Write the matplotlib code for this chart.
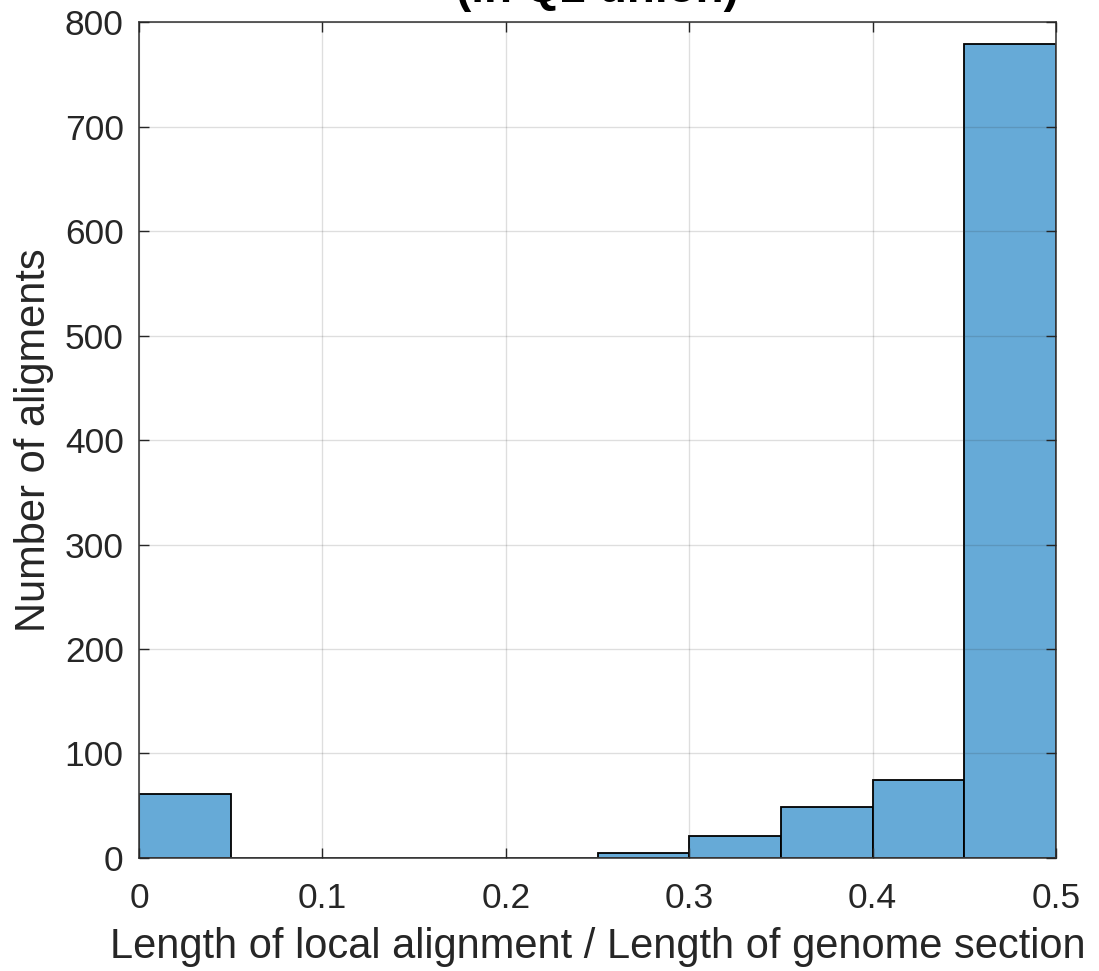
import matplotlib.pyplot as plt
import numpy as np

plt.rcParams["font.family"] = ["Liberation Sans", "DejaVu Sans"]

# histogram bin edges and counts per bin
bin_edges = [0.0, 0.05, 0.1, 0.15, 0.2, 0.25, 0.3, 0.35, 0.4, 0.45, 0.5]
counts = [61, 0, 0, 0, 0, 5, 21, 49, 75, 779]

x_ticks = [0, 0.1, 0.2, 0.3, 0.4, 0.5]
y_ticks = [0, 100, 200, 300, 400, 500, 600, 700, 800]

fig = plt.figure(figsize=(10.99, 9.71), dpi=100)
ax = fig.add_axes([0.1265, 0.1164, 0.8344, 0.8609])

edges = np.array(bin_edges)
ax.bar(
    edges[:-1],
    counts,
    width=np.diff(edges),
    align="edge",
    color="#66AAD7",
    edgecolor="black",
    linewidth=1.3,
)

ax.set_xlim(0, 0.5)
ax.set_ylim(0, 800)
ax.set_xticks(x_ticks)
ax.set_xticklabels([f"{t:g}" for t in x_ticks])
ax.set_yticks(y_ticks)

ax.set_axisbelow(False)
ax.grid(True, color="#262626", alpha=0.15, linewidth=1)

for side in ax.spines.values():
    side.set_color("#404040")
    side.set_linewidth(1.2)

ax.tick_params(
    direction="in", length=7, width=1, colors="#262626",
    labelsize=25.5, top=True, right=True, pad=11,
)
ax.tick_params(axis="x", pad=17)

ax.set_xlabel("Length of local alignment / Length of genome section",
              fontsize=30, color="#262626", labelpad=9)
ax.set_ylabel("Number of aligments", fontsize=30, color="#262626", labelpad=8)

fig.text(0.5437, 1 - 2 / 971, "(in Q2 union)", ha="center", va="baseline",
         fontsize=33, fontweight="bold", color="black")

fig.savefig("out.png", dpi=100)
